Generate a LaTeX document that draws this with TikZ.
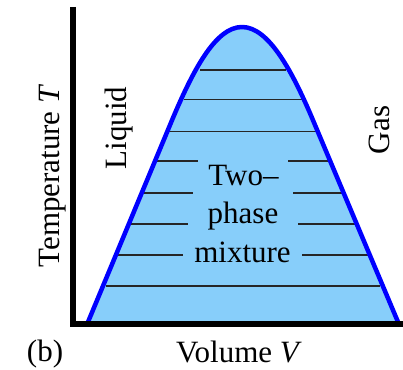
\documentclass[tikz,border=0pt]{standalone}
\usepackage{fontspec}
\setmainfont{Liberation Serif}
\definecolor{phasefill}{RGB}{135,206,250}
\definecolor{phaseline}{RGB}{0,0,255}
\begin{document}
\begin{tikzpicture}[x=1pt,y=-1pt,
  axis/.style={line width=5.5pt},
  dome/.style={line width=4.5pt,draw=phaseline,line join=round},
  tie/.style={line width=1.1pt,draw=black!85},
  lbl/.style={font=\fontsize{31}{37}\selectfont,inner sep=0pt},
  ]
\useasboundingbox (0,0) rectangle (403,369);
% dome fill
\coordinate (lf) at (88,322);
\coordinate (rf) at (398,322);
\coordinate (pk) at (242,27);
\fill[phasefill] (lf) -- (170,125) .. controls (192,72) and (215,27) .. (pk)
  .. controls (269,27) and (293,72) .. (315,125) -- (rf) -- cycle;
% tie lines
\draw[tie] (200,70) -- (286,70);
\draw[tie] (184,99.5) -- (302,99.5);
\draw[tie] (168,131.5) -- (317,131.5);
\draw[tie] (156,161) -- (198,161);
\draw[tie] (288,161) -- (330,161);
\draw[tie] (142,193) -- (193,193);
\draw[tie] (293,193) -- (343,193);
\draw[tie] (130,224) -- (188,224);
\draw[tie] (298,224) -- (357,224);
\draw[tie] (117,255) -- (183,255);
\draw[tie] (302,255) -- (368,255);
\draw[tie] (106,286) -- (380,286);
% dome outline
\draw[dome] (lf) -- (170,125) .. controls (192,72) and (215,27) .. (pk)
  .. controls (269,27) and (293,72) .. (315,125) -- (rf);
% axes
\coordinate (top) at (73,7);
\coordinate (org) at (73,324);
\coordinate (rgt) at (403,324);
\draw[axis] (top) -- (73,326.75);
\draw[axis] (70,324) -- (rgt);
% labels
\node[lbl,anchor=base] (two) at (243.5,185) {Two–};
\node[lbl,anchor=base] (phase) at (243,223) {phase};
\node[lbl,anchor=base] (mix) at (242.5,262) {mixture};
\node[lbl,anchor=base] (vol) at (239,362) {Volume \textit{V}};
\node[lbl,anchor=base] (b) at (45,361) {(b)};
\node[lbl,anchor=base,rotate=90] (temp) at (59,176) {Temperature \textit{T}};
\node[lbl,anchor=base,rotate=90] (liq) at (126,128) {Liquid};
\node[lbl,anchor=base,rotate=90] (gas) at (389,130) {Gas};
\end{tikzpicture}
\end{document}
